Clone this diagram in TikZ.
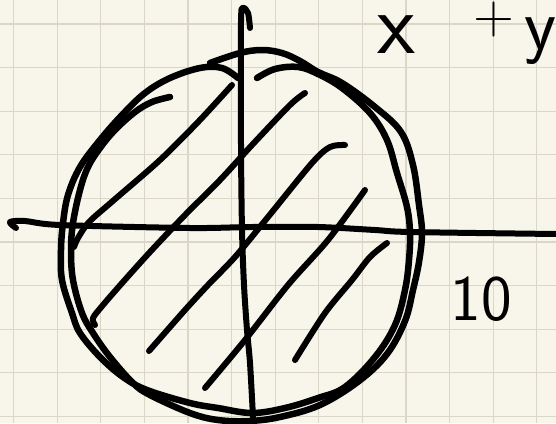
\documentclass[tikz,border=0pt]{standalone}
\usepackage{amsfonts,amsmath,amssymb,tikz}
\definecolor{paper}{HTML}{F8F6EA}
\definecolor{gridline}{HTML}{DAD7C9}
\tikzset{
	ink/.style={line width=6.5pt, line cap=round, line join=round},
	hatch/.style={ink, line width=6pt},
	hand/.style={inner sep=0pt, font=\sffamily},
}
\begin{document}
\begin{tikzpicture}[x=1pt,y=-1pt]
		\useasboundingbox (0,0) rectangle (556,423);
		\clip (0,0) rectangle (556,423);
		\fill[paper] (0,0) rectangle (556,423);
		\foreach \x in {0,...,12}
		\draw[gridline, line width=1.2pt] (13.5+43.6*\x,0) -- (13.5+43.6*\x,423);
		\foreach \y in {0,...,9}
		\draw[gridline, line width=1.2pt] (0,24+43.6*\y) -- (556,24+43.6*\y);
		% axes
		\draw[ink, line width=6pt] plot[smooth] coordinates {(16,228) (10,222) (25,221) (60,225) (190,228) (252,227) (318,227) (375,230) (410,232) (556,234)};
		\draw[ink, line width=6pt] plot[smooth] coordinates {(250,28) (248,13) (243,8) (241,22) (241,145) (242,230) (244,285) (247,330) (250,363) (253,417)};
		% the two loops
		\draw[ink] plot[smooth, tension=0.6] coordinates {(238,78) (222,68) (200,68) (170,78) (145,93) (122,115) (100,140) (80,167) (68,195) (63,223) (61,250) (62,280) (72,313) (80,333) (100,357) (123,377) (147,390) (190,403) (218,408) (252,413) (285,408) (318,398) (345,387) (375,357) (395,325) (405,290) (409,260) (410,233) (407,207) (397,173) (387,140) (370,113) (342,88) (318,74) (298,67) (275,69) (257,78)};
		\draw[ink] plot[smooth, tension=0.6] coordinates {(210,63) (240,53) (262,50) (282,53) (300,61) (318,72) (342,83) (375,107) (401,132) (413,165) (419,205) (422,233) (419,262) (413,290) (405,321) (387,354) (359,381) (320,405) (280,417) (249,421) (218,420) (190,413) (150,395) (133,383) (110,357) (93,333) (82,313) (73,280) (71,250) (73,223) (80,190) (88,167) (100,148) (115,130) (135,112) (152,102) (170,97)};
		% hatching
		\draw[hatch] plot[smooth] coordinates {(232,85) (199,121) (160,160) (114,200) (89,222) (78,238) (74,247)};
		\draw[hatch] plot[smooth] coordinates {(305,93) (290,105) (252,145) (220,180) (185,215) (150,252) (123,282) (103,305) (93,318) (95,325)};
		\draw[hatch] plot[smooth] coordinates {(345,145) (330,147) (312,163) (268,217) (235,257) (208,285) (185,310) (149,351)};
		\draw[hatch] plot[smooth] coordinates {(365,190) (328,240) (288,285) (245,340) (205,388)};
		\draw[hatch] plot[smooth] coordinates {(387,243) (370,257) (352,280) (325,313) (295,360)};
		% labels
		\node[hand, anchor=base] (xlbl) at (397,53) {\fontsize{88}{88}\selectfont x};
		\node[hand] (pluslbl) at (494,20) {\fontsize{56}{56}\selectfont +};
		\node[hand, anchor=base] (ylbl) at (540,49) {\fontsize{74}{74}\selectfont y};
		\node[hand, anchor=base] (tenlbl) at (481,320) {\fontsize{65}{65}\selectfont 10};
		\end{tikzpicture}
\end{document}
